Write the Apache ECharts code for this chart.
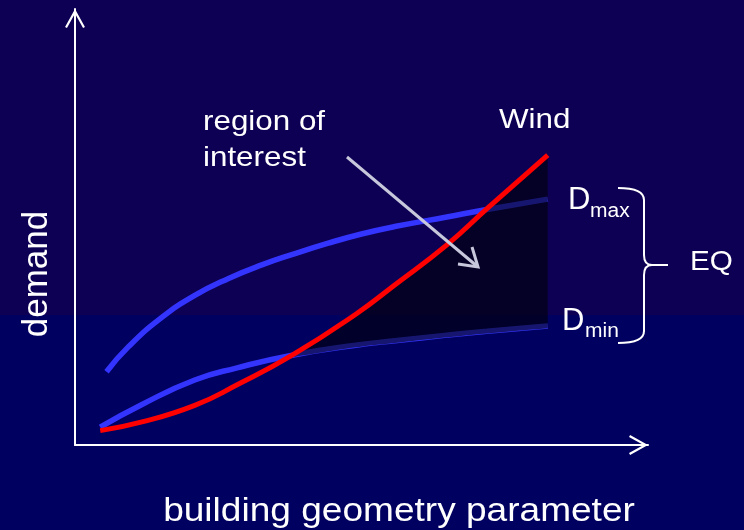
<!DOCTYPE html>
<html>
<head>
<meta charset="utf-8">
<script src="https://cdn.jsdelivr.net/npm/echarts@6/dist/echarts.min.js"></script>
<style>
  html, body { margin: 0; padding: 0; }
  body { width: 744px; height: 530px; background: linear-gradient(to bottom, #0d0054 0px, #0d0054 315px, #000060 315px, #000060 530px); }
  #chart { width: 744px; height: 530px; }
</style>
</head>
<body>
<div id="chart"></div>
<script>
// Upper EQ demand curve (Dmax)
const dmaxX = [5.5, 9.3, 15.1, 20.9, 26.8, 32.6, 38.4, 44.2, 50.0, 55.8, 64.9, 71.9, 82.5];
const dmaxY = [16.8, 22.5, 29.2, 34.3, 38.2, 41.3, 43.9, 46.3, 48.4, 50.1, 52.3, 54.0, 56.4];
// Shared x positions for the lower EQ curve (Dmin) and the wind curve
const xs    = [4.4, 11.7, 20.9, 28.3, 37.9, 49.0, 55.8, 64.9, 71.9, 82.5];
const dminY = [4.1, 9.3, 14.9, 17.7, 20.6, 22.9, 23.9, 25.2, 26.1, 27.3];
const windY = [3.3, 5.3, 9.1, 13.8, 20.6, 30.0, 36.7, 45.9, 54.2, 66.5];
// region of interest starts where wind crosses Dmin
const regionStart = 4;

const chart = echarts.init(document.getElementById('chart'), null, { renderer: 'canvas' });

const FONT = '"Liberation Sans", Arial, Helvetica, sans-serif';
const chevron = 'path://M10,0 L20,18 L18.1,19.1 L10,4.5 L1.9,19.1 L0,18 Z';

const SMOOTH = 0.5;
const pairs = (xArr, yArr) => xArr.map((x, i) => [x, yArr[i]]);
// region series are given as [y, x] so that stacking acts on the y value
const regionX = xs.slice(regionStart);
const regionBase = dminY.slice(regionStart).map(v => v - 0.5);
const regionTop = windY.slice(regionStart);
const regionDiff = regionTop.map((v, i) => v - regionBase[i]);
const flipped = (xArr, yArr) => xArr.map((x, i) => [yArr[i], x]);

function txt(text, x, y, size, opts) {
  opts = opts || {};
  return {
    type: 'text', x: x, y: y, silent: true, z: 100,
    rotation: opts.rotation || 0,
    scaleX: opts.scaleX || 1, scaleY: opts.scaleY || 1,
    style: {
      text: text, fill: '#ffffff', font: size + 'px ' + FONT,
      textAlign: opts.align || 'left', textVerticalAlign: 'middle'
    }
  };
}
function seg(x1, y1, x2, y2, color, w) {
  return { type: 'line', silent: true, z: 100, shape: { x1: x1, y1: y1, x2: x2, y2: y2 },
    style: { stroke: color, lineWidth: w, fill: null } };
}
function curve(x1, y1, cx, cy, x2, y2, color, w) {
  return { type: 'bezierCurve', silent: true, z: 100,
    shape: { x1: x1, y1: y1, x2: x2, y2: y2, cpx1: cx, cpy1: cy },
    style: { stroke: color, lineWidth: w, fill: null } };
}

const W = '#ffffff';
const ARROW = '#c8c8dc';

const option = {
  backgroundColor: 'transparent',
  animation: false,
  grid: { left: 75, right: 96, top: 9, bottom: 85, outerBoundsMode: 'none', containLabel: false },
  xAxis: {
    type: 'value', min: 0, max: 100, z: 10,
    axisLine: { show: true, onZero: false, symbol: ['none', chevron], symbolSize: [20, 19], symbolOffset: [0, -9.5],
      lineStyle: { color: '#ffffff', width: 2 } },
    axisTick: { show: false }, axisLabel: { show: false }, splitLine: { show: false }
  },
  yAxis: {
    type: 'value', min: 0, max: 100, z: 10,
    axisLine: { show: true, onZero: false, symbol: ['none', chevron], symbolSize: [20, 19], symbolOffset: [0, -9.5],
      lineStyle: { color: '#ffffff', width: 2 } },
    axisTick: { show: false }, axisLabel: { show: false }, splitLine: { show: false }
  },
  series: [
    { name: 'Dmax', type: 'line', z: 2, data: pairs(dmaxX, dmaxY), smooth: SMOOTH, symbol: 'none', silent: true,
      lineStyle: { color: '#3434ff', width: 5.5 } },
    { name: 'Dmin', type: 'line', z: 2, data: pairs(xs, dminY), smooth: SMOOTH, symbol: 'none', silent: true,
      lineStyle: { color: '#3434ff', width: 5.5 } },
    { name: 'regionBase', type: 'line', z: 3, stack: 'region', encode: { x: 1, y: 0 },
      data: flipped(regionX, regionBase), smooth: SMOOTH, symbol: 'none', silent: true,
      lineStyle: { width: 0, opacity: 0 } },
    { name: 'region', type: 'line', z: 3, stack: 'region', encode: { x: 1, y: 0 },
      data: flipped(regionX, regionDiff), smooth: SMOOTH, symbol: 'none', silent: true,
      lineStyle: { width: 0, opacity: 0 }, areaStyle: { color: 'rgba(0,0,0,0.56)', opacity: 1 } },
    { name: 'Wind', type: 'line', z: 4, data: pairs(xs, windY), smooth: SMOOTH, symbol: 'none', silent: true,
      lineStyle: { color: '#ff0000', width: 5 } }
  ],
  graphic: [
    txt('region of', 203, 122.3, 28, { scaleX: 1.12 }),
    txt('interest', 203, 158.3, 28, { scaleX: 1.12 }),
    txt('Wind', 499, 120.3, 28, { scaleX: 1.12 }),
    txt('D', 568, 200.2, 31),
    txt('max', 590, 211.1, 20, { scaleX: 1.05 }),
    txt('D', 562, 321.2, 31),
    txt('min', 585, 331.1, 20, { scaleX: 1.05 }),
    txt('EQ', 690, 262.3, 28, { scaleX: 1.06 }),
    txt('demand', 37, 274, 35, { rotation: Math.PI / 2, align: 'center', scaleY: 1.0 }),
    txt('building geometry parameter', 399, 511.2, 34, { align: 'center', scaleX: 1.09 }),
    // brace
    curve(618, 188, 644, 188, 644, 200, W, 2),
    seg(644, 200, 644, 255, W, 2),
    curve(644, 255, 644, 265, 652, 265, W, 2),
    seg(652, 265, 668, 265, W, 2),
    curve(652, 265, 644, 265, 644, 275, W, 2),
    seg(644, 275, 644, 331, W, 2),
    curve(644, 331, 644, 343, 618, 343, W, 2),
    // pointer arrow
    seg(347, 157, 478, 267, ARROW, 3),
    { type: 'polyline', silent: true, z: 100, shape: { points: [[458, 264], [478, 267], [472, 247]] },
      style: { stroke: ARROW, lineWidth: 3, fill: null } }
  ]
};

chart.setOption(option);
</script>
</body>
</html>
